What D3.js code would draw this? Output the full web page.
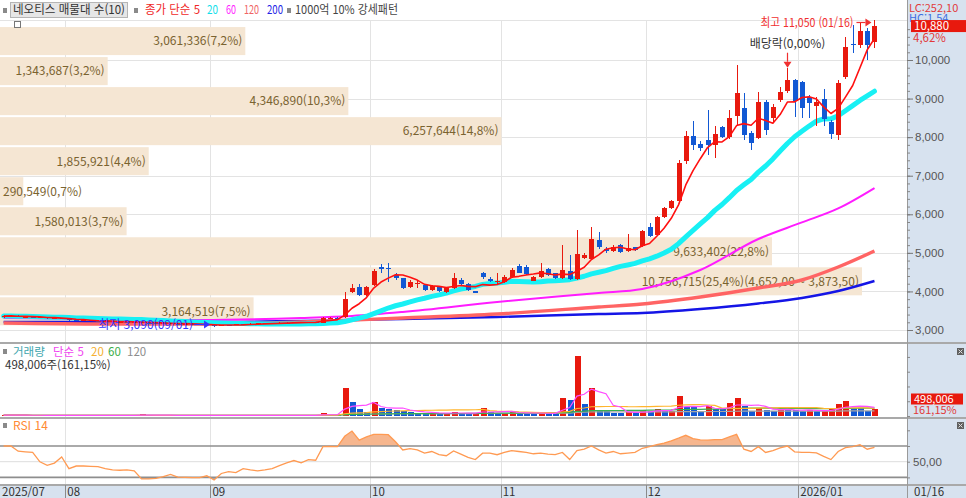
<!DOCTYPE html>
<html lang="ko">
<head>
<meta charset="utf-8">
<title>네오티스 매물대</title>
<script src="https://cdn.jsdelivr.net/npm/d3@7"></script>
<style>
  body { margin: 0; background: #fff; }
  svg { display: block; font-family: "Noto Sans CJK KR", "Noto Sans", sans-serif; }
</style>
</head>
<body>
<div id="chart"></div>
<script>
// 거래일 (월 라벨 + 월별 거래일)
const monthLabels = ["2025/07", "08", "09", "10", "11", "12", "2026/01"];
const monthDays = [
  [21, 22, 23, 24, 25, 28, 29, 30, 31],
  [1, 4, 5, 6, 7, 8, 11, 12, 13, 14, 18, 19, 20, 21, 22, 25, 26, 27, 28, 29],
  [1, 2, 3, 4, 5, 8, 9, 10, 11, 12, 15, 16, 17, 18, 19, 22, 23, 24, 25, 26, 29, 30],
  [1, 2, 10, 13, 14, 15, 16, 17, 20, 21, 22, 23, 24, 27, 28, 29, 30, 31],
  [3, 4, 5, 6, 7, 10, 11, 12, 13, 14, 17, 18, 19, 20, 21, 24, 25, 26, 27, 28],
  [1, 2, 3, 4, 5, 8, 9, 10, 11, 12, 15, 16, 17, 18, 19, 22, 23, 24, 26, 29, 30],
  [2, 5, 6, 7, 8, 9, 12, 13, 14, 15, 16]
];
const lastDateLabel = "01/16";

// 일봉 (시가 / 고가 / 저가 / 종가)
const open = [
  3330, 3360, 3370, 3340, 3345, 3320, 3325, 3300, 3310, 3290,
  3250, 3240, 3260, 3230, 3220, 3235, 3210, 3215, 3200, 3205,
  3190, 3185, 3170, 3175, 3160, 3150, 3165, 3140, 3145, 3130,
  3110, 3130, 3125, 3150, 3145, 3160, 3170, 3165, 3180, 3190,
  3185, 3200, 3195, 3210, 3175, 3295, 3320, 3330, 3990, 4120,
  3910, 4170, 4625, 4620, 4425, 4340, 4120, 4190, 4170, 4040,
  4130, 3980, 4080, 4300, 4180, 4000, 4480, 4330, 4255, 4252,
  4381, 4658, 4640, 4280, 4380, 4580, 4470, 4340, 4540, 4314,
  4860, 4850, 5333, 5100, 5040, 5200, 5040, 5140, 5170, 5678,
  5462, 5937, 6170, 6344, 7380, 8036, 7822, 7925, 7800, 8252,
  8010, 8547, 8763, 8100, 7970, 8919, 8487, 8962, 9203, 9480,
  9436, 9047, 8800, 8979, 8400, 8054, 9566, 10420, 10387, 10758, 10470
];
const high = [
  3380, 3390, 3380, 3360, 3350, 3340, 3330, 3320, 3315, 3295,
  3265, 3270, 3265, 3240, 3245, 3240, 3225, 3220, 3215, 3210,
  3200, 3190, 3185, 3180, 3165, 3170, 3170, 3150, 3150, 3135,
  3140, 3140, 3160, 3155, 3170, 3180, 3175, 3190, 3200, 3195,
  3210, 3205, 3220, 3215, 3340, 3350, 3340, 3990, 4190, 4180,
  4150, 4580, 4700, 4740, 4480, 4360, 4300, 4300, 4200, 4170,
  4150, 4120, 4470, 4350, 4220, 4020, 4500, 4380, 4480, 4420,
  4600, 4720, 4680, 4400, 4745, 4600, 4490, 5200, 4950, 5590,
  5000, 5680, 5550, 5160, 5200, 5230, 5490, 5160, 5600, 5780,
  5950, 6200, 6380, 7400, 8150, 8420, 7900, 8700, 8300, 8280,
  8700, 9868, 9135, 8150, 9180, 8960, 8850, 9310, 9800, 9500,
  9460, 9100, 9050, 9240, 8450, 9480, 10600, 10900, 10950, 10820, 11050
];
const low = [
  3310, 3340, 3330, 3320, 3310, 3300, 3290, 3290, 3280, 3240,
  3230, 3235, 3225, 3210, 3215, 3205, 3200, 3195, 3195, 3180,
  3175, 3160, 3165, 3150, 3140, 3145, 3135, 3130, 3120, 3090,
  3105, 3115, 3120, 3135, 3140, 3155, 3155, 3160, 3170, 3175,
  3180, 3185, 3190, 3190, 3170, 3290, 3280, 3320, 3950, 3880,
  3890, 4150, 4480, 4250, 4300, 4060, 4100, 4080, 4020, 4010,
  3980, 3950, 4060, 4160, 4010, 3950, 4330, 4250, 4200, 4230,
  4360, 4470, 4430, 4260, 4360, 4410, 4320, 4320, 4300, 4300,
  4830, 4830, 5100, 4990, 5020, 4990, 5020, 5050, 5150, 5420,
  5440, 5900, 6150, 6320, 7300, 7666, 7650, 7540, 7458, 7980,
  7950, 8300, 7925, 7666, 7950, 8050, 8400, 8900, 9150, 8530,
  8495, 8500, 8300, 8300, 7960, 7925, 9500, 10180, 10300, 10000, 10300
];
const close = [
  3360, 3370, 3340, 3345, 3320, 3325, 3300, 3310, 3290, 3250,
  3240, 3260, 3230, 3220, 3235, 3210, 3215, 3200, 3205, 3190,
  3185, 3170, 3175, 3160, 3150, 3165, 3140, 3145, 3130, 3110,
  3130, 3125, 3150, 3145, 3160, 3170, 3165, 3180, 3190, 3185,
  3200, 3195, 3210, 3200, 3320, 3315, 3300, 3800, 4080, 3910,
  4110, 4540, 4575, 4590, 4340, 4080, 4250, 4210, 4040, 4150,
  4000, 4100, 4340, 4180, 4030, 3970, 4365, 4270, 4265, 4381,
  4555, 4485, 4450, 4380, 4540, 4430, 4340, 4555, 4320, 4970,
  4945, 5350, 5160, 5050, 5150, 5010, 5120, 5065, 5574, 5450,
  5937, 6170, 6344, 7321, 8036, 7795, 7710, 7795, 8070, 8010,
  8486, 9135, 8054, 7860, 8919, 8184, 8790, 9177, 9480, 8944,
  8746, 8876, 8900, 8461, 8080, 9410, 10343, 10400, 10758, 10400, 10880
];

// 거래량 (주)
const volume = [
  60000, 55000, 48000, 52000, 45000, 50000, 47000, 42000, 44000, 58000,
  46000, 52000, 44000, 40000, 48000, 42000, 38000, 41000, 36000, 110000,
  45000, 40000, 38000, 42000, 39000, 44000, 37000, 35000, 40000, 62000,
  48000, 42000, 50000, 38000, 44000, 46000, 40000, 52000, 48000, 42000,
  50000, 45000, 56000, 48000, 184000, 90000, 85000, 1925000, 952000, 456000,
  292000, 952000, 564000, 456000, 388000, 340000, 272000, 224000, 184000, 224000,
  156000, 184000, 272000, 184000, 156000, 184000, 564000, 272000, 224000, 230000,
  272000, 184000, 180000, 156000, 224000, 184000, 156000, 1244000, 1068000, 4080000,
  796000, 1924000, 408000, 340000, 184000, 180000, 272000, 224000, 408000, 340000,
  496000, 340000, 345000, 1360000, 612000, 600000, 272000, 680000, 456000, 450000,
  904000, 1244000, 680000, 340000, 564000, 408000, 340000, 496000, 456000, 388000,
  340000, 388000, 340000, 345000, 456000, 796000, 1020000, 564000, 540000, 309033, 498006
];

// RSI 14 (화면에서 읽은 값)
const rsi14 = [
  70, 70, 63.4, 62.6, 61.8, 49.8, 45.3, 48.2, 56, 41.2,
  44.5, 44.5, 44, 43.6, 41.2, 39.5, 39.1, 39.5, 38.3, 28,
  28, 28.8, 30.9, 33.7, 30.4, 30, 29.6, 29.6, 32.1, 26.7,
  35, 37.4, 36.2, 41.2, 39.5, 38.3, 39.5, 41.2, 44.9, 48.6,
  51.5, 48.6, 52.7, 51.9, 69.2, 69.6, 69.2, 82.4, 89, 77.4,
  81.5, 84.8, 84.8, 84.4, 75.4, 65, 66.7, 65, 60.9, 63,
  58.9, 57.6, 63.8, 59.7, 55.6, 52.7, 60.9, 60.9, 58.9, 61.8,
  64.2, 63, 61.8, 60.1, 60.9, 59.7, 58.9, 61.8, 52.7, 64.2,
  65.9, 70, 65, 60.9, 63, 60.1, 60.9, 61.8, 67.1, 69.2,
  71.6, 73.7, 76.6, 79.9, 83.6, 79.5, 77.8, 77.4, 78.2, 78.2,
  81.5, 84.8, 65.9, 63, 69.2, 61.8, 64.2, 67.5, 70, 62.6,
  61.8, 61.8, 61.3, 56.8, 52.7, 63, 67.9, 69.2, 71.6, 65.9, 68.4
];

// 장기 이동평균 (60/120/200) - 봉 인덱스별로 읽은 값
const maKnotIdx = [0, 14, 27, 41, 48, 55, 68, 82, 88, 96, 104, 110, 115, 120];
const ma60Knots = [3311, 3285, 3259, 3311, 3363, 3467, 3726, 3959, 4063, 4555, 5359, 5789, 6152, 6681];
const ma120Knots = [3181, 3155, 3155, 3207, 3259, 3311, 3415, 3596, 3674, 3855, 4089, 4296, 4633, 5048];
const ma200Knots = [3207, 3207, 3207, 3233, 3259, 3285, 3337, 3415, 3441, 3544, 3687, 3829, 4011, 4270];

// 매물대 10개 (위 -> 아래)
const profileVolume = [3061336, 1343687, 4346890, 6257644, 1855921, 290549, 1580013, 9633402, 10756715, 3164519];
const profileRange = [3095, 10880];

const priceTicks = [3000, 4000, 5000, 6000, 7000, 8000, 9000, 10000];

// ---------------------------------------------------------------
const W = 966, H = 498, plotR = 907;
const mainTop = 20, mainBot = 341;
const volTop = 345, volBot = 417;
const rsiTop = 419, rsiBot = 484, axTop = 485;

const RED = "#e8190e", BLUE = "#1158d4";
const PANEL_BG = "#d7e2ef";

const n = close.length;
const dates = [];
const monthStart = [];
monthDays.forEach((days, m) => {
  monthStart.push(dates.length);
  days.forEach(d => dates.push({ m, d }));
});

const x = d3.scaleBand()
  .domain(d3.range(n))
  .range([0, n * 7.257])
  .paddingInner(0.28)
  .paddingOuter(0.14);
const xc = i => x(i) + x.bandwidth() / 2;
const xEdge = i => i * x.step();

const yP = d3.scaleLinear().domain([3000, 10000]).range([330, 60]);
const yVol = d3.scaleLinear().domain([0, 4200000]).range([volBot - 1, 354]);
const yR = d3.scaleLinear().domain([30, 70]).range([477.4, 446]);

const fmt = d3.format(",");
const dec1 = v => v.toFixed(1).replace(".", ",");
const dec2 = v => d3.format(",.2f")(v).replace(/\.(\d\d)$/, ",$1");

const svg = d3.select("#chart").append("svg")
  .attr("width", W)
  .attr("height", H);

svg.append("rect").attr("width", W).attr("height", H).attr("fill", "#fff");
svg.append("rect")
  .attr("x", plotR).attr("y", 0)
  .attr("width", W - plotR).attr("height", H)
  .attr("fill", PANEL_BG);
svg.append("rect")
  .attr("x", 0).attr("y", axTop)
  .attr("width", W).attr("height", H - axTop)
  .attr("fill", PANEL_BG);

const defs = svg.append("defs");
function clip(id, x0, y0, w, h) {
  defs.append("clipPath").attr("id", id)
    .append("rect").attr("x", x0).attr("y", y0).attr("width", w).attr("height", h);
  return `url(#${id})`;
}
const clipMain = clip("clipMain", 0, 17, plotR, mainBot - 17);
const clipVol = clip("clipVol", 0, volTop, plotR, volBot - volTop);
const clipRsi = clip("clipRsi", 0, rsiTop, plotR, rsiBot - rsiTop);
const clipAbove = clip("clipAbove", 0, rsiTop, plotR, yR(70) - rsiTop);
const clipBelow = clip("clipBelow", 0, yR(30), plotR, rsiBot - yR(30));

// 그리드
const grid = svg.append("g").attr("shape-rendering", "crispEdges");
grid.selectAll("line.h").data(priceTicks).join("line")
  .attr("x1", 0).attr("x2", plotR)
  .attr("y1", d => Math.round(yP(d)) + 0.5).attr("y2", d => Math.round(yP(d)) + 0.5)
  .attr("stroke", "#e3e3e3");
grid.append("line")
  .attr("x1", 0).attr("x2", plotR).attr("y1", mainTop + 0.5).attr("y2", mainTop + 0.5)
  .attr("stroke", "#e3e3e3");
grid.selectAll("line.v").data(monthStart.slice(1)).join("line")
  .attr("x1", d => Math.round(xEdge(d)) + 0.5).attr("x2", d => Math.round(xEdge(d)) + 0.5)
  .attr("y1", mainTop).attr("y2", rsiBot)
  .attr("stroke", "#e3e3e3");

// 매물대
const bandStep = (profileRange[1] - profileRange[0]) / profileVolume.length;
const profTotal = d3.sum(profileVolume);
const profMax = d3.max(profileVolume);
const xProf = d3.scaleLinear().domain([0, profMax]).range([0, 862]);
const profData = profileVolume.map((v, k) => {
  const upper = profileRange[1] - k * bandStep;
  return { v, upper, lower: upper - bandStep };
});

const gProf = svg.append("g");
gProf.selectAll("rect").data(profData).join("rect")
  .attr("x", 0)
  .attr("y", d => yP(d.upper) + 1)
  .attr("width", d => xProf(d.v))
  .attr("height", d => yP(d.lower) - yP(d.upper) - 2)
  .attr("fill", "#f5e6d3");

gProf.selectAll("text").data(profData).join("text")
  .attr("y", d => (yP(d.upper) + yP(d.lower)) / 2)
  .attr("dy", "0.36em")
  .attr("font-size", 12)
  .attr("fill", "#7a6330")
  .text(d => {
    let s = `${fmt(d.v)}(${dec1(d.v / profTotal * 100)}%)`;
    if (d.v === profMax) s += `(${dec2(d.upper)} ~ ${dec2(d.lower)})`;
    return s;
  })
  .each(function (d) {
    const w = this.getComputedTextLength();
    const end = xProf(d.v);
    if (w + 6 < end) {
      d3.select(this).attr("x", end - 3).attr("text-anchor", "end");
    } else {
      d3.select(this).attr("x", 3).attr("text-anchor", "start");
    }
  });

// 이동평균
const sma = (arr, k) => arr.map((_, i) => d3.mean(arr.slice(Math.max(0, i - k + 1), i + 1)));
const ma5 = sma(close, 5);
const ma20 = sma(close, 20);

const gMain = svg.append("g").attr("clip-path", clipMain);
const knotLine = d3.line()
  .x(d => xc(d[0]))
  .y(d => yP(d[1]))
  .curve(d3.curveMonotoneX);
const seriesLine = d3.line()
  .x((d, i) => xc(i))
  .y(d => yP(d));

const longMAs = [
  { vals: ma200Knots, color: "#1515e6", w: 2.4 },
  { vals: ma120Knots, color: "#ff6464", w: 3.4 },
  { vals: ma60Knots, color: "#ff1cff", w: 2 }
];
longMAs.forEach(m => {
  gMain.append("path")
    .datum(maKnotIdx.map((idx, k) => [idx, m.vals[k]]))
    .attr("d", knotLine)
    .attr("fill", "none")
    .attr("stroke", m.color)
    .attr("stroke-width", m.w)
    .attr("stroke-linejoin", "round");
});

gMain.append("path")
  .datum(ma20)
  .attr("d", seriesLine)
  .attr("fill", "none")
  .attr("stroke", "#18f0f4")
  .attr("stroke-width", 5)
  .attr("stroke-linejoin", "round")
  .attr("stroke-linecap", "round");

// 캔들
const candles = d3.range(n).map(i => ({ i, o: open[i], h: high[i], l: low[i], c: close[i] }));
const isUp = d => d.c >= d.o;
const gC = gMain.append("g").attr("shape-rendering", "crispEdges");
gC.selectAll("line").data(candles).join("line")
  .attr("x1", d => Math.round(xc(d.i)) + 0.5)
  .attr("x2", d => Math.round(xc(d.i)) + 0.5)
  .attr("y1", d => yP(d.h))
  .attr("y2", d => yP(d.l))
  .attr("stroke", d => isUp(d) ? RED : BLUE);
gC.selectAll("rect").data(candles).join("rect")
  .attr("x", d => Math.round(xc(d.i)) - 2)
  .attr("width", 5)
  .attr("y", d => yP(Math.max(d.o, d.c)))
  .attr("height", d => Math.max(1, Math.abs(yP(d.o) - yP(d.c))))
  .attr("fill", d => isUp(d) ? RED : BLUE);

gMain.append("path")
  .datum(ma5)
  .attr("d", seriesLine)
  .attr("fill", "none")
  .attr("stroke", "#ff1010")
  .attr("stroke-width", 1.6)
  .attr("stroke-linejoin", "round");

// 최고 / 최저 / 배당락 표시
const iMax = d3.maxIndex(high);
const iMin = d3.minIndex(low);
const dateStr = i => `${monthLabels[dates[i].m].slice(-2)}/${String(dates[i].d).padStart(2, "0")}`;
const note = svg.append("g").attr("font-size", 12);

const hx = xc(iMax), hy = yP(high[iMax]) + 3;
note.append("text")
  .attr("x", hx - 21).attr("y", hy).attr("dy", "0.35em")
  .attr("text-anchor", "end").attr("fill", "#f03030")
  .attr("textLength", 93).attr("lengthAdjust", "spacingAndGlyphs")
  .text(`최고 ${fmt(high[iMax])} (${dateStr(iMax)})`);
note.append("line")
  .attr("x1", hx - 18).attr("x2", hx - 9).attr("y1", hy).attr("y2", hy)
  .attr("stroke", "#f03030").attr("stroke-width", 1.2);
note.append("path")
  .attr("d", `M${hx - 9},${hy - 4}L${hx - 3},${hy}L${hx - 9},${hy + 4}Z`)
  .attr("fill", "#f03030");

const lx = xc(iMin), ly = yP(low[iMin]) - 2;
note.append("text")
  .attr("x", lx - 21).attr("y", ly).attr("dy", "0.35em")
  .attr("text-anchor", "end").attr("fill", "#3434ff")
  .text(`최저 ${fmt(low[iMin])}(${dateStr(iMin)})`);
note.append("line")
  .attr("x1", lx - 20).attr("x2", lx - 10).attr("y1", ly).attr("y2", ly)
  .attr("stroke", "#3434ff").attr("stroke-width", 1.2);
note.append("path")
  .attr("d", `M${lx - 10},${ly - 4}L${lx - 4},${ly}L${lx - 10},${ly + 4}Z`)
  .attr("fill", "#3434ff");

const exDiv = 108;
const ex = Math.round(xc(exDiv)) + 0.5, ey = yP(high[exDiv]);
note.append("text")
  .attr("x", ex).attr("y", ey - 24).attr("dy", "0.35em")
  .attr("text-anchor", "middle").attr("fill", "#333")
  .text("배당락(0,00%)");
note.append("line")
  .attr("x1", ex).attr("x2", ex).attr("y1", ey - 15).attr("y2", ey - 6)
  .attr("stroke", "#f03030").attr("stroke-width", 1.2);
note.append("path")
  .attr("d", `M${ex - 4},${ey - 6}L${ex + 4},${ey - 6}L${ex},${ey}Z`)
  .attr("fill", "#f03030");

// 거래량
const volColor = volume.map((v, i) => (i === 0 || v >= volume[i - 1]) ? RED : BLUE);
const gVol = svg.append("g").attr("clip-path", clipVol);
gVol.append("g").attr("shape-rendering", "crispEdges")
  .selectAll("rect").data(volume).join("rect")
  .attr("x", (d, i) => Math.round(xc(i)) - 2.5)
  .attr("width", 6)
  .attr("y", d => yVol(d))
  .attr("height", d => Math.max(0.8, yVol(0) - yVol(d)))
  .attr("fill", (d, i) => volColor[i]);

const volLine = d3.line().x((d, i) => xc(i)).y(d => yVol(d));
[
  { k: 120, color: "#a6a6a6" },
  { k: 60, color: "#36b050" },
  { k: 20, color: "#ffb52e" },
  { k: 5, color: "#ff4cff" }
].forEach(m => {
  gVol.append("path")
    .datum(sma(volume, m.k))
    .attr("d", volLine)
    .attr("fill", "none")
    .attr("stroke", m.color)
    .attr("stroke-width", 1.2);
});

// RSI
const gRsi = svg.append("g");
gRsi.append("line")
  .attr("x1", 0).attr("x2", plotR).attr("y1", yR(50)).attr("y2", yR(50))
  .attr("stroke", "#dddddd");
gRsi.append("path")
  .datum(rsi14)
  .attr("clip-path", clipAbove)
  .attr("d", d3.area().x((d, i) => xc(i)).y1(d => yR(d)).y0(yR(70)))
  .attr("fill", "#f6b68e");
gRsi.append("path")
  .datum(rsi14)
  .attr("clip-path", clipBelow)
  .attr("d", d3.area().x((d, i) => xc(i)).y1(d => yR(d)).y0(yR(30)))
  .attr("fill", "#9eb0c6");
gRsi.selectAll("line.lv").data([30, 70]).join("line")
  .attr("x1", 0).attr("x2", plotR)
  .attr("y1", d => yR(d)).attr("y2", d => yR(d))
  .attr("stroke", "#8e8e8e").attr("stroke-width", 1.6);
gRsi.append("path")
  .datum(rsi14)
  .attr("clip-path", clipRsi)
  .attr("d", d3.line().x((d, i) => xc(i)).y(d => yR(d)))
  .attr("fill", "none")
  .attr("stroke", "#ff9a52")
  .attr("stroke-width", 1.3);

// 패널 구분선
const sep = svg.append("g").attr("shape-rendering", "crispEdges");
[[342, 2], [417, 2], [484, 1.5]].forEach(([y, h]) => {
  sep.append("rect").attr("x", 0).attr("y", y).attr("width", W).attr("height", h).attr("fill", "#a9a9a9");
});
sep.append("line")
  .attr("x1", plotR + 0.5).attr("x2", plotR + 0.5).attr("y1", 0).attr("y2", H)
  .attr("stroke", "#9a9a9a");

// 오른쪽 가격축
const axisText = g => g.selectAll("text").attr("fill", "#555").attr("font-size", 11.5);
svg.append("g")
  .attr("transform", `translate(${plotR},0)`)
  .call(d3.axisRight(yP).tickValues(d3.range(3000, 10801, 200)).tickSize(3).tickFormat(""))
  .call(g => g.select(".domain").remove())
  .call(g => g.selectAll("line").attr("stroke", "#888"));
svg.append("g")
  .attr("transform", `translate(${plotR},0)`)
  .call(d3.axisRight(yP).tickValues(priceTicks).tickSize(6).tickPadding(2).tickFormat(fmt))
  .call(g => g.select(".domain").remove())
  .call(g => g.selectAll("line").attr("stroke", "#777"))
  .call(axisText);

svg.append("g")
  .attr("transform", `translate(${plotR},0)`)
  .call(d3.axisRight(yVol).ticks(5).tickSize(3).tickFormat(""))
  .call(g => g.select(".domain").remove())
  .call(g => g.selectAll("line").attr("stroke", "#888"));

svg.append("g")
  .attr("transform", `translate(${plotR},0)`)
  .call(d3.axisRight(yR).tickValues([30, 50, 70, 90]).tickSize(3)
    .tickFormat(d => d === 50 ? "50,00" : ""))
  .call(g => g.select(".domain").remove())
  .call(g => g.selectAll("line").attr("stroke", "#888"))
  .call(axisText);

// 현재가 표시
const lastC = close[n - 1];
const chg = (lastC / close[n - 2] - 1) * 100;
const right = svg.append("g").attr("font-size", 11);
right.append("text").attr("x", 909).attr("y", 8).attr("dy", "0.35em")
  .attr("fill", "#e23a3a").text("LC:252,10");
right.append("text").attr("x", 909).attr("y", 18).attr("dy", "0.35em")
  .attr("fill", "#3d6ee0").text("HC:1,54");
right.append("rect")
  .attr("x", 911).attr("y", yP(lastC) - 6).attr("width", W - 911).attr("height", 12)
  .attr("fill", "#e8190e");
right.append("text").attr("x", 914).attr("y", yP(lastC)).attr("dy", "0.36em")
  .attr("font-size", 11.5).attr("fill", "#fff").text(fmt(lastC));
right.append("text").attr("x", 913).attr("y", yP(lastC) + 12).attr("dy", "0.36em")
  .attr("font-size", 11.5).attr("fill", "#e23a3a").text(`${dec2(chg)}%`);

const lastV = volume[n - 1];
const volPct = lastV / volume[n - 2] * 100;
const vy = Math.min(yVol(lastV), 399);
right.append("rect")
  .attr("x", 911).attr("y", vy - 5.5).attr("width", 52).attr("height", 11)
  .attr("fill", "#e8190e");
right.append("text").attr("x", 914).attr("y", vy).attr("dy", "0.36em")
  .attr("fill", "#fff").text(fmt(lastV));
right.append("text").attr("x", 913).attr("y", vy + 11.5).attr("dy", "0.36em")
  .attr("fill", "#e23a3a").text(`${dec2(volPct)}%`);

// 작은 아이콘
[[957, 348], [957, 422]].forEach(([ix, iy]) => {
  right.append("rect").attr("x", ix).attr("y", iy).attr("width", 7).attr("height", 7).attr("fill", "#606060");
  right.append("path").attr("d", `M${ix + 1.5},${iy + 1.5}L${ix + 5.5},${iy + 5.5}M${ix + 5.5},${iy + 1.5}L${ix + 1.5},${iy + 5.5}`)
    .attr("stroke", "#ddd").attr("stroke-width", 1);
});

// 날짜축
const dAx = svg.append("g").attr("font-size", 11.5);
dAx.selectAll("line").data(monthStart.slice(1)).join("line")
  .attr("x1", d => Math.round(xEdge(d)) + 0.5).attr("x2", d => Math.round(xEdge(d)) + 0.5)
  .attr("y1", axTop).attr("y2", H)
  .attr("stroke", "#8a8a8a");
dAx.selectAll("text").data(monthStart).join("text")
  .attr("x", d => xEdge(d) + 2)
  .attr("y", 491.5).attr("dy", "0.36em")
  .attr("fill", "#333")
  .text((d, m) => monthLabels[m]);
dAx.append("text").attr("x", 914).attr("y", 491.5).attr("dy", "0.36em")
  .attr("fill", "#333").text(lastDateLabel);

// 상단 범례
const head = svg.append("g").attr("font-size", 12);
const sq = (g, x0, y0) => g.append("rect").attr("x", x0).attr("y", y0).attr("width", 4).attr("height", 5).attr("fill", "#8a8a8a");
const fitText = (g, t, tx, ty, w, c) => g.append("text")
  .attr("x", tx).attr("y", ty).attr("dy", "0.36em").attr("fill", c)
  .attr("textLength", w).attr("lengthAdjust", "spacingAndGlyphs")
  .text(t);
sq(head, 3, 8);
head.append("rect").attr("x", 10.5).attr("y", 2.5).attr("width", 117).attr("height", 15)
  .attr("fill", "#e6e6e6").attr("stroke", "#b5b5b5");
fitText(head, "네오티스 매물대 수(10)", 13, 10, 112, "#333");
sq(head, 134, 8);
[
  ["종가 단순 5", 145, 55, "#f02828"],
  ["20", 207, 11, "#12e0ea"],
  ["60", 226, 10, "#ff22ff"],
  ["120", 244, 15, "#f06464"],
  ["200", 267, 16, "#2424e6"]
].forEach(([t, tx, w, c]) => fitText(head, t, tx, 10, w, c));
sq(head, 287, 8);
fitText(head, "1000억 10% 강세패턴", 295, 10, 103, "#444");
head.append("rect").attr("x", 14.5).attr("y", 21.5).attr("width", 6).attr("height", 6)
  .attr("fill", "#fff").attr("stroke", "#777");

// 거래량 범례
const vh = svg.append("g").attr("font-size", 11.5);
sq(vh, 3, 349);
[
  ["거래량", 13, "#3ea6ae"],
  ["단순 5", 53, "#f044f0"],
  ["20", 91, "#f5b030"],
  ["60", 108, "#3cae48"],
  ["120", 127, "#8c8c8c"]
].forEach(([t, tx, c]) => {
  vh.append("text").attr("x", tx).attr("y", 352).attr("dy", "0.36em").attr("fill", c).text(t);
});
vh.append("text").attr("x", 5).attr("y", 365).attr("dy", "0.36em").attr("fill", "#333")
  .text(`${fmt(lastV)}주(${dec2(volPct)}%)`);

// RSI 범례
const rh = svg.append("g").attr("font-size", 12);
sq(rh, 3, 423);
rh.append("text").attr("x", 13).attr("y", 426).attr("dy", "0.36em").attr("fill", "#ff8a35")
  .text("RSI 14");
</script>
</body>
</html>
